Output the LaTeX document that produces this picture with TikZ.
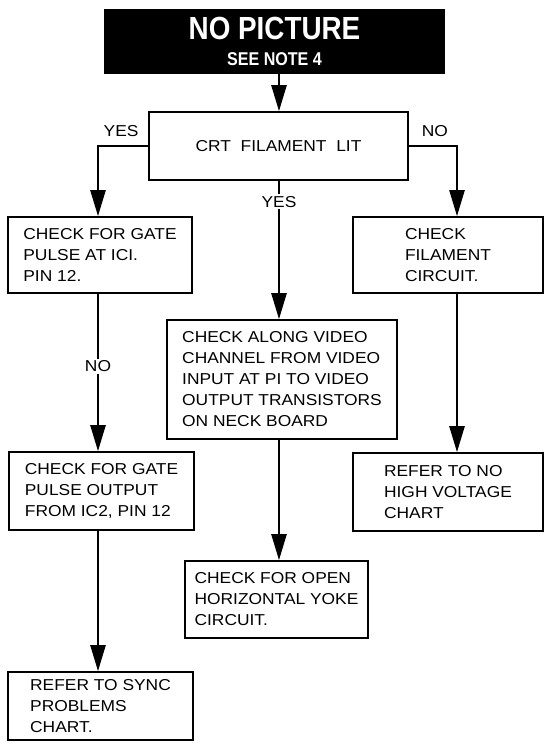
\documentclass[tikz,border=0pt]{standalone}
\usepackage{fontspec}
\newfontfamily\chartfont[FakeStretch=1.1]{Liberation Sans}
\newfontfamily\headfont[FakeStretch=0.87]{Liberation Sans}
\usetikzlibrary{arrows.meta}

\tikzset{
	chkbox/.style={draw, line width=1.6pt, align=left, inner sep=0pt, font=\chartfont\fontsize{15.8}{21}\selectfont},
	arr/.style={line width=2.4pt, -{Triangle[length=26pt,width=15pt]}},
	lbl/.style={inner sep=2pt, font=\chartfont\fontsize{15.8}{18}\selectfont},
}

\begin{document}
\begin{tikzpicture}[x=1pt, y=-1pt]
	\useasboundingbox (0,0) rectangle (544,742);
	\coordinate (cL) at (98,0);
	\coordinate (cM) at (279,0);
	\coordinate (cR) at (457,0);

	\node[fill=black, text=white, minimum width=341pt, minimum height=65pt, inner sep=0pt, align=center, font=\headfont\bfseries\fontsize{18.5}{26}\selectfont] (title) at (274.5,41.5) {{\fontsize{32}{26}\selectfont NO PICTURE}\\SEE NOTE 4};
	\node[chkbox, minimum width=259pt, minimum height=68pt] (crt) at (278.5,146) {CRT\ \ FILAMENT\ \ LIT};

	\node[chkbox, minimum width=184pt, minimum height=76pt] (gate1) at (100,255) {CHECK FOR GATE\\PULSE AT ICI.\\PIN 12.};
	\node[chkbox, minimum width=185pt, minimum height=78pt] (gate2) at (101.5,491) {CHECK FOR GATE\\PULSE OUTPUT\\FROM IC2, PIN 12};
	\node[chkbox, minimum width=185pt, minimum height=68pt] (sync) at (100.5,706) {REFER TO SYNC\\PROBLEMS\\CHART.};

	\node[chkbox, minimum width=230pt, minimum height=119pt] (video) at (282,379.5) {CHECK ALONG VIDEO\\CHANNEL FROM VIDEO\\INPUT AT PI TO VIDEO\\OUTPUT TRANSISTORS\\ON NECK BOARD};
	\node[chkbox, minimum width=183pt, minimum height=77pt] (yoke) at (276.5,599.5) {CHECK FOR OPEN\\HORIZONTAL YOKE\\CIRCUIT.};

	\node[chkbox, minimum width=190pt, minimum height=76pt] (fil) at (448,255) {CHECK\\FILAMENT\\CIRCUIT.};
	\node[chkbox, minimum width=190pt, minimum height=78pt] (hv) at (448,492) {REFER TO NO\\HIGH VOLTAGE\\CHART};

	\draw[arr] (title.south -| cM) -- (crt.north -| cM);
	\draw[arr] (crt.west) -| node[lbl, above=6pt, pos=.27] {YES} (gate1.north -| cL);
	\draw[arr] (crt.east) -| node[lbl, above=6pt, pos=.27] {NO} (fil.north -| cR);
	\draw[arr] (crt.south -| cM) -- node[lbl, fill=white, pos=.15] {YES} (video.north -| cM);

	\draw[arr] (gate1.south -| cL) -- node[lbl, fill=white, pos=.46] {NO} (gate2.north -| cL);
	\draw[arr] (gate2.south -| cL) -- (sync.north -| cL);
	\draw[arr] (video.south -| cM) -- (yoke.north -| cM);
	\draw[arr] (fil.south -| cR) -- (hv.north -| cR);
\end{tikzpicture}
\end{document}
